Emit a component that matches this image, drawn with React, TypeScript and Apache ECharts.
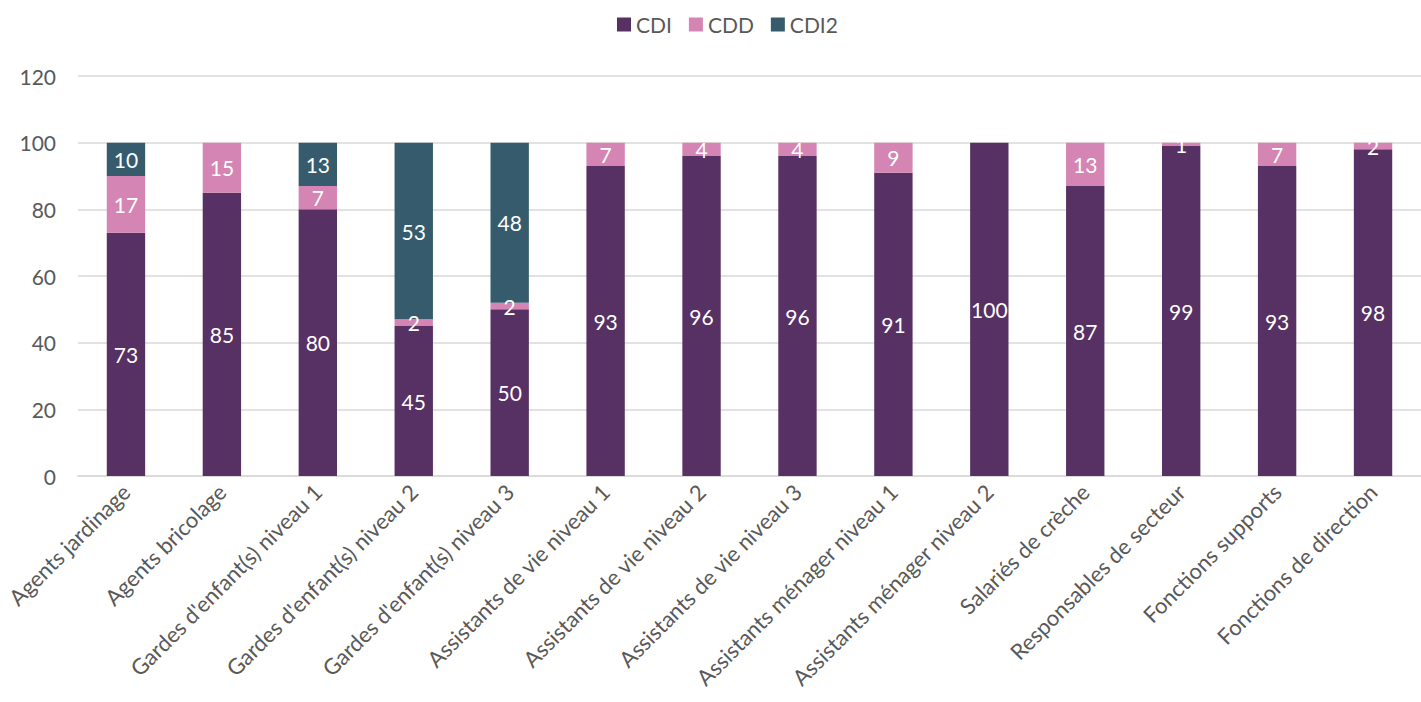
import React, { useEffect, useRef } from "react";
import * as echarts from "echarts";

const categories = [
  "Agents jardinage",
  "Agents bricolage",
  "Gardes d'enfant(s) niveau 1",
  "Gardes d'enfant(s) niveau 2",
  "Gardes d'enfant(s) niveau 3",
  "Assistants de vie niveau 1",
  "Assistants de vie niveau 2",
  "Assistants de vie niveau 3",
  "Assistants ménager niveau 1",
  "Assistants ménager niveau 2",
  "Salariés de crèche",
  "Responsables de secteur",
  "Fonctions supports",
  "Fonctions de direction",
];
const cdi = [73, 85, 80, 45, 50, 93, 96, 96, 91, 100, 87, 99, 93, 98];
const cdd = [17, 15, 7, 2, 2, 7, 4, 4, 9, 0, 13, 1, 7, 2];
const cdi2 = [10, 0, 13, 53, 48, 0, 0, 0, 0, 0, 0, 0, 0, 0];

const FONT = "Lato";

export default function App() {
  const ref = useRef<HTMLDivElement>(null);
  useEffect(() => {
    if (!ref.current) return;
    const chart = echarts.init(ref.current, null, { renderer: "svg" });
    const label = {
      show: true,
      position: "inside",
      color: "#ffffff",
      fontSize: 21,
      fontFamily: FONT,
      formatter: (p: any) => (p.value ? String(p.value) : ""),
    };
    const mk = (name: string, data: number[], color: string) => ({
      name,
      type: "bar",
      stack: "total",
      data,
      barWidth: "40%",
      itemStyle: { color },
      label,
    });
    chart.setOption({
      animation: false,
      textStyle: { fontFamily: FONT },
      legend: {
        top: 9,
        left: 612,
        itemWidth: 14,
        itemHeight: 14,
        itemGap: 17,
        icon: "rect",
        textStyle: { fontSize: 21, color: "#595959", fontFamily: FONT },
        data: ["CDI", "CDD", "CDI2"],
      },
      grid: { left: 78, right: -3, top: 76, bottom: 226, containLabel: false },
      xAxis: {
        type: "category",
        data: categories,
        axisTick: { show: false },
        axisLine: { lineStyle: { color: "#d9d9d9", width: 1.5 } },
        axisLabel: {
          interval: 0,
          rotate: 45,
          fontSize: 22,
          color: "#595959",
          fontFamily: FONT,
          margin: 12,
        },
      },
      yAxis: {
        type: "value",
        min: 0,
        max: 120,
        interval: 20,
        axisLine: { show: false },
        axisTick: { show: false },
        splitLine: { lineStyle: { color: "#d9d9d9", width: 1.5 } },
        axisLabel: { fontSize: 21, color: "#595959", fontFamily: FONT, margin: 22 },
      },
      series: [
        mk("CDI", cdi, "#573064"),
        mk("CDD", cdd, "#d585b3"),
        mk("CDI2", cdi2, "#355b6c"),
      ],
    });
    return () => chart.dispose();
  }, []);
  return (
    <div
      ref={ref}
      style={{ position: "fixed", left: 0, top: 0, width: 1421, height: 702, background: "#fff" }}
    />
  );
}
